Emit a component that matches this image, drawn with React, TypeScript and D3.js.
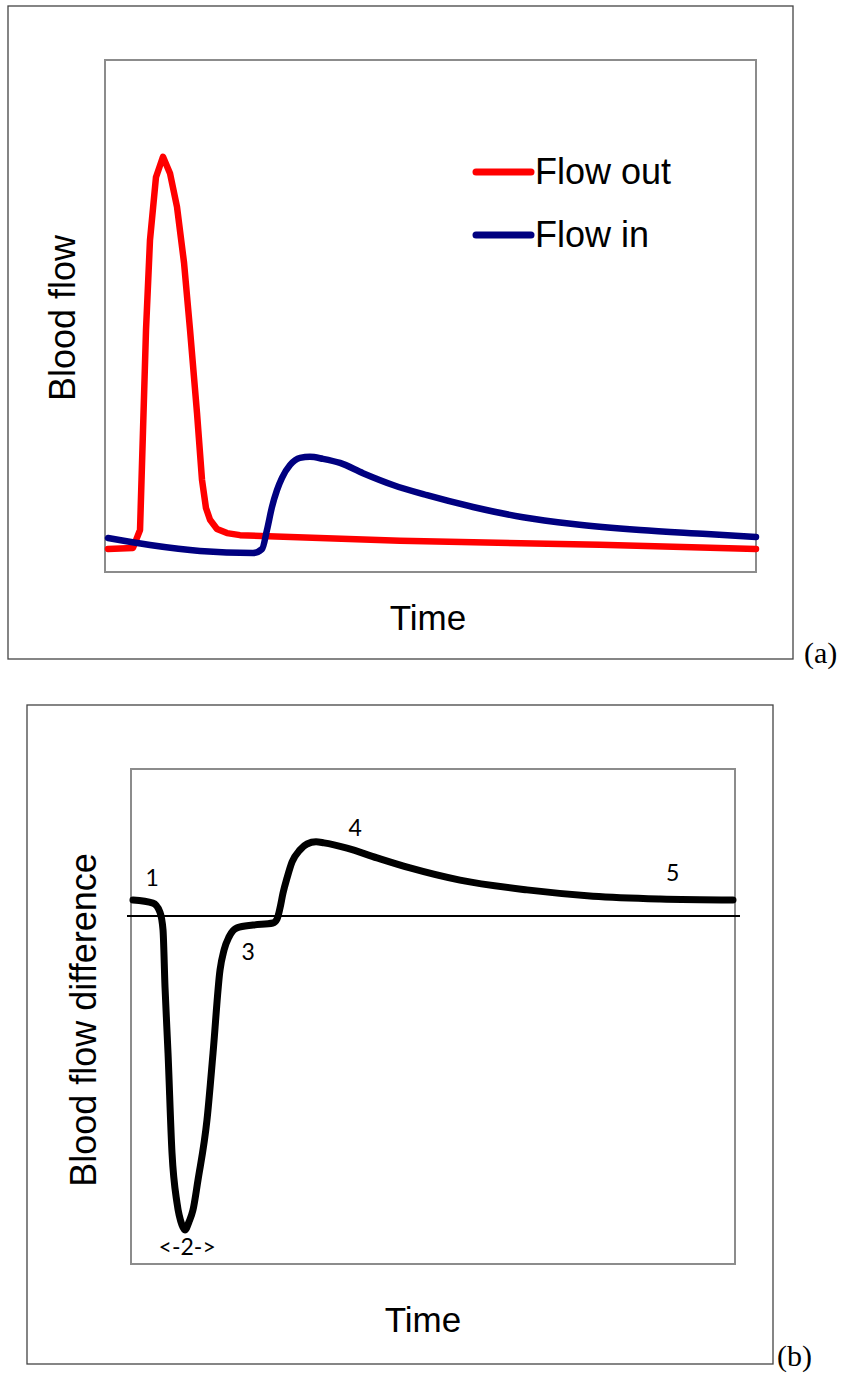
import React from "react";
import * as d3 from "d3";

// ---------- Data (a): blood flow vs time ----------
const outTime = [0.46, 4.3, 5.38, 5.84, 6.3, 6.91, 7.83, 8.91, 9.98, 11.06, 12.14, 13.06, 14.13, 14.9, 15.51, 16.13, 17.2, 18.74, 20.74, 45.3, 76.0, 100];
const flowOut = [4.5, 4.7, 8.2, 27.7, 47.3, 64.8, 77.1, 81.1, 77.9, 71.3, 60.4, 47.3, 31.1, 18.0, 12.5, 10.2, 8.4, 7.6, 7.2, 6.1, 5.3, 4.5];

const inTime = [0.46, 6.91, 14.59, 22.73, 24.12, 24.88, 25.65, 26.42, 27.19, 28.42, 29.95, 31.49, 33.49, 36.1, 39.63, 44.24, 49.46, 56.53, 64.21, 71.89, 82.18, 92.47, 100];
const flowIn = [6.64, 5.27, 4.1, 3.71, 4.49, 8.2, 12.7, 16.0, 18.4, 20.9, 22.3, 22.5, 22.1, 21.3, 19.3, 17.0, 15.0, 12.7, 10.7, 9.38, 8.2, 7.42, 6.84];

const legendLabels = ["Flow out", "Flow in"];
const legendColors = ["#ff0000", "#000080"];

// ---------- Data (b): blood flow difference vs time ----------
const diffTime = [0.33, 3.64, 4.8, 5.3, 5.63, 6.13, 6.79, 7.62, 8.44, 8.94, 9.6, 10.26, 11.09, 12.58, 13.58, 14.74, 15.4, 16.23, 17.55, 20.2, 23.51, 24.17, 24.67, 25.17, 25.83, 26.66, 27.98, 29.14, 30.63, 31.95, 35.76, 40.73, 46.19, 54.47, 65.56, 76.49, 87.58, 99.67];
const flowDiff = [4.6, 3.7, 1.1, -4.0, -20.4, -39.4, -68.1, -82.5, -88.8, -90.2, -87.9, -84.5, -75.9, -58.6, -39.4, -15.5, -9.8, -6.0, -3.4, -2.6, -2.0, -0.9, 2.3, 6.6, 10.9, 15.5, 19.0, 20.7, 21.3, 21.0, 19.5, 16.7, 13.8, 10.3, 7.5, 5.7, 4.9, 4.6];

const phaseLabels = ["1", "<-2->", "3", "4", "5"];
const phaseTime = [3.5, 9.3, 19.4, 37.1, 89.7];
const phaseValue = [10.9, -95, -10.3, 25.3, 12.4];

export default function App() {
  // panel (a)
  const ax = d3.scaleLinear().domain([0, 100]).range([105, 756]);
  const ay = d3.scaleLinear().domain([0, 100]).range([572, 60]);
  const outPts = outTime.map((t, i) => [t, flowOut[i]] as [number, number]);
  const inPts = inTime.map((t, i) => [t, flowIn[i]] as [number, number]);
  const outPath = d3
    .line<[number, number]>()
    .x((d) => ax(d[0]))
    .y((d) => ay(d[1]))(outPts);
  const inPath = d3
    .line<[number, number]>()
    .x((d) => ax(d[0]))
    .y((d) => ay(d[1]))
    .curve(d3.curveMonotoneX)(inPts);

  // panel (b)
  const bx = d3.scaleLinear().domain([0, 100]).range([131, 735]);
  const by = d3.scaleLinear().domain([-100, 42.24]).range([1264, 769]);
  const diffPts = diffTime.map((t, i) => [t, flowDiff[i]] as [number, number]);
  const diffPath = d3
    .line<[number, number]>()
    .x((d) => bx(d[0]))
    .y((d) => by(d[1]))
    .curve(d3.curveMonotoneX)(diffPts);

  const sans = "'Liberation Sans', Arial, sans-serif";
  const calibriLike = "Lato, 'Open Sans', sans-serif";
  const serif = "'Liberation Serif', 'Times New Roman', serif";

  return (
    <svg
      width={844}
      height={1374}
      style={{ position: "absolute", left: 0, top: 0, background: "#fff" }}
    >
      <rect x={0} y={0} width={844} height={1374} fill="#fff" />
      {/* ---------- Panel (a) ---------- */}
      <rect x={8} y={6} width={785} height={653} fill="none" stroke="#444" strokeWidth={1.3} />
      <rect x={105} y={60} width={651} height={512} fill="none" stroke="#8c8c8c" strokeWidth={2} />
      <path d={outPath || ""} fill="none" stroke={legendColors[0]} strokeWidth={6.5} strokeLinejoin="round" strokeLinecap="round" />
      <path d={inPath || ""} fill="none" stroke={legendColors[1]} strokeWidth={6.5} strokeLinejoin="round" strokeLinecap="round" />
      {legendLabels.map((lab, i) => (
        <g key={lab} transform={`translate(0, ${172 + i * 63})`}>
          <line x1={476} x2={531} y1={0} y2={0} stroke={legendColors[i]} strokeWidth={7} strokeLinecap="round" />
          <text x={535} y={12} fontFamily={sans} fontSize={36} fill="#000">
            {lab}
          </text>
        </g>
      ))}
      <text x={428} y={630} textAnchor="middle" fontFamily={sans} fontSize={35} fill="#000">
        Time
      </text>
      <text
        transform="translate(75, 318) rotate(-90)"
        textAnchor="middle"
        fontFamily={sans}
        fontSize={36}
        fill="#000"
      >
        Blood flow
      </text>
      <text x={804} y={663} fontFamily={serif} fontSize={30} fill="#000">
        (a)
      </text>

      {/* ---------- Panel (b) ---------- */}
      <rect x={27} y={705} width={746} height={659} fill="none" stroke="#444" strokeWidth={1.3} />
      <rect x={131} y={769} width={604} height={495} fill="none" stroke="#8c8c8c" strokeWidth={2} />
      <line x1={bx.range()[0] - 4} x2={bx.range()[1] + 5} y1={by(0)} y2={by(0)} stroke="#000" strokeWidth={2} />
      <path d={diffPath || ""} fill="none" stroke="#000" strokeWidth={7} strokeLinejoin="round" strokeLinecap="round" />
      {phaseLabels.map((lab, i) => (
        <text
          key={lab}
          x={bx(phaseTime[i])}
          y={by(phaseValue[i])}
          dy="0.35em"
          textAnchor="middle"
          fontFamily={calibriLike}
          fontSize={23}
          fill="#000"
        >
          {lab}
        </text>
      ))}
      <text x={423} y={1332} textAnchor="middle" fontFamily={sans} fontSize={35} fill="#000">
        Time
      </text>
      <text
        transform="translate(96, 1020) rotate(-90)"
        textAnchor="middle"
        fontFamily={sans}
        fontSize={36}
        fill="#000"
      >
        Blood flow difference
      </text>
      <text x={777} y={1366} fontFamily={serif} fontSize={30} fill="#000">
        (b)
      </text>
    </svg>
  );
}
